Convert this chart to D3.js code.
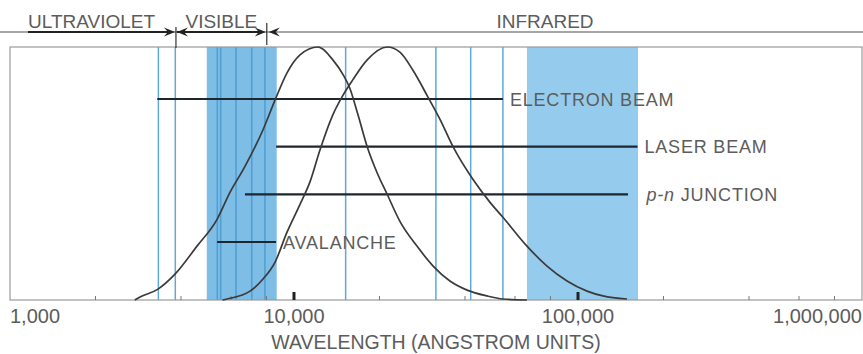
<!DOCTYPE html>
<html>
<head>
<meta charset="utf-8">
<script src="https://cdn.jsdelivr.net/npm/d3@7/dist/d3.min.js"></script>
<style>
  html, body { margin: 0; padding: 0; background: #fff; }
  svg { display: block; }
  text { font-family: "Liberation Sans", Arial, sans-serif; fill: #5c5c5c; }
  .num { font-family: "Liberation Sans Narrow", "Liberation Sans", sans-serif; }
</style>
</head>
<body>
<svg id="chart" width="863" height="354"></svg>
<script>
// Wavelength axis (angstroms)
const majorTicks = [1000, 10000, 100000, 1000000];
const tickLabels = ["1,000", "10,000", "100,000", "1,000,000"];
const minorTicks = [2000, 4000, 6000, 8000, 20000, 40000, 60000, 80000, 200000, 400000, 600000, 800000];
const axisTitle = "WAVELENGTH (ANGSTROM UNITS)";

// Spectral regions and their boundaries (angstroms)
const regionNames = ["ULTRAVIOLET", "VISIBLE", "INFRARED"];
const regionBounds = [3840, 8020];

// Emission curves: wavelength (angstroms) and relative intensity
const curveAWavelength = [2750, 2870, 3320, 3810, 4555, 5360, 5950, 6720, 7780, 8580, 9450, 10500, 12150, 13700, 14900, 15700, 16800, 18100, 19600, 21300, 23600, 27100, 30900, 35400, 40700, 47800, 54400, 66100];
const curveAIntensity  = [0, 0.012, 0.043, 0.102, 0.213, 0.319, 0.425, 0.528, 0.673, 0.791, 0.898, 0.969, 1.0, 0.949, 0.89, 0.839, 0.732, 0.606, 0.504, 0.417, 0.311, 0.213, 0.134, 0.075, 0.039, 0.016, 0.004, 0];
const curveBWavelength = [5600, 5810, 7000, 7780, 8580, 9450, 10500, 11400, 12350, 13700, 14900, 16100, 18100, 21300, 23600, 26200, 29600, 32700, 36300, 42700, 49000, 54400, 66100, 77800, 91500, 107600, 122400, 148800];
const curveBIntensity  = [0, 0.004, 0.035, 0.083, 0.150, 0.268, 0.378, 0.469, 0.594, 0.732, 0.811, 0.870, 0.949, 1.0, 0.980, 0.909, 0.803, 0.713, 0.606, 0.476, 0.386, 0.327, 0.213, 0.134, 0.075, 0.035, 0.016, 0.004];

// Emitter ranges (angstroms)
const emitterNames = ["ELECTRON BEAM", "LASER BEAM", "p-n JUNCTION", "AVALANCHE"];
const emitterFrom  = [3300, 8650, 6720, 5360];
const emitterTo    = [54400, 162000, 150000, 8650];

// Shaded bands and single lines (angstroms)
const bandFrom = [4930, 66100];
const bandTo   = [8690, 162700];
const bandLines = [5370, 5520, 6250, 7100, 7900];
const singleLines = [3330, 3820, 15200, 31600, 41900, 54400];

const svg = d3.select("#chart");
const W = 863, H = 354;
const plot = { left: 10, right: 862, top: 47, bottom: 300 };

const x = d3.scaleLog().domain([1000, 1000000]).range([plot.left, plot.right]);
const y = d3.scaleLinear().domain([0, 1]).range([plot.bottom, plot.top]);
const row = d3.scalePoint().domain(emitterNames).range([99, 242]);

// Shaded bands
const bandColors = ["#7dbde6", "#95ccee"];
svg.append("g").selectAll("rect").data(bandFrom).join("rect")
  .attr("x", (d, i) => x(d))
  .attr("y", plot.top)
  .attr("width", (d, i) => x(bandTo[i]) - x(d))
  .attr("height", plot.bottom - plot.top)
  .attr("fill", (d, i) => bandColors[i]);

// Darker lines inside the visible band
svg.append("g").selectAll("line").data(bandLines).join("line")
  .attr("x1", d => x(d)).attr("x2", d => x(d))
  .attr("y1", plot.top).attr("y2", plot.bottom)
  .attr("stroke", "#529fd2").attr("stroke-width", 1.6);

// Single emission lines
svg.append("g").selectAll("line").data(singleLines).join("line")
  .attr("x1", d => x(d)).attr("x2", d => x(d))
  .attr("y1", plot.top).attr("y2", plot.bottom)
  .attr("stroke", "#5fa9da").attr("stroke-width", 1.5);

// Plot frame
svg.append("rect")
  .attr("x", plot.left).attr("y", plot.top)
  .attr("width", plot.right - plot.left).attr("height", plot.bottom - plot.top)
  .attr("fill", "none").attr("stroke", "#9a9a9a").attr("stroke-width", 1.2);

// Axis ticks along the bottom edge
svg.append("g").selectAll("line").data(minorTicks).join("line")
  .attr("x1", d => x(d)).attr("x2", d => x(d))
  .attr("y1", plot.bottom).attr("y2", plot.bottom - 4)
  .attr("stroke", "#777").attr("stroke-width", 1);
svg.append("g").selectAll("line").data(majorTicks.slice(1, -1)).join("line")
  .attr("x1", d => x(d)).attr("x2", d => x(d))
  .attr("y1", plot.bottom).attr("y2", plot.bottom - 8)
  .attr("stroke", "#222").attr("stroke-width", 3);

// Tick labels
svg.append("g").selectAll("text").data(majorTicks).join("text")
  .attr("class", "num")
  .attr("x", d => x(d))
  .attr("y", 323)
  .attr("font-size", 20)
  .attr("text-anchor", (d, i) => i === 0 ? "start" : (i === majorTicks.length - 1 ? "end" : "middle"))
  .text((d, i) => tickLabels[i]);

svg.append("text")
  .attr("x", (plot.left + plot.right) / 2)
  .attr("y", 349)
  .attr("font-size", 19.5)
  .attr("text-anchor", "middle")
  .text(axisTitle);

// Emitter range bars
svg.append("g").selectAll("line").data(emitterNames).join("line")
  .attr("x1", (d, i) => x(emitterFrom[i]))
  .attr("x2", (d, i) => x(emitterTo[i]))
  .attr("y1", d => row(d)).attr("y2", d => row(d))
  .attr("stroke", "#1d2631").attr("stroke-width", 2.2);

// Emission curves
const line = d3.line().x(d => x(d[0])).y(d => y(d[1])).curve(d3.curveMonotoneX);
[[curveAWavelength, curveAIntensity], [curveBWavelength, curveBIntensity]].forEach(([ws, vs]) => {
  svg.append("path")
    .datum(ws.map((w, i) => [w, vs[i]]))
    .attr("d", line)
    .attr("fill", "none")
    .attr("stroke", "#3a3a3a")
    .attr("stroke-width", 1.7);
});

// Emitter labels
const labelX = name => name === "p-n JUNCTION" ? x(emitterTo[1]) + 9 : x(emitterTo[emitterNames.indexOf(name)]) + 7;
const labels = svg.append("g").selectAll("text").data(emitterNames).join("text")
  .attr("x", d => labelX(d))
  .attr("y", d => row(d) + 6.5)
  .attr("font-size", 18)
  .attr("letter-spacing", 0.8);
labels.each(function (d) {
  const t = d3.select(this);
  if (d.startsWith("p-n")) {
    t.append("tspan").attr("font-style", "italic").text("p-n");
    t.append("tspan").text(d.slice(3));
  } else {
    t.text(d);
  }
});

// Spectral region header
const headY = 32;
svg.append("line")
  .attr("x1", 0).attr("x2", W).attr("y1", headY).attr("y2", headY)
  .attr("stroke", "#888").attr("stroke-width", 1.5);

const b0 = x(regionBounds[0]), b1 = x(regionBounds[1]);
const arrowSegs = [[28, b0 - 1], [b0 + 1, b1 - 1]];
svg.append("g").selectAll("line").data(arrowSegs).join("line")
  .attr("x1", d => d[0]).attr("x2", d => d[1] - 4)
  .attr("y1", headY).attr("y2", headY)
  .attr("stroke", "#222").attr("stroke-width", 2);

function head(tx, dir) {
  return `M${tx},${headY} L${tx - dir * 11},${headY - 4.5} L${tx - dir * 7},${headY} L${tx - dir * 11},${headY + 4.5} Z`;
}
const heads = [[b0 - 1, 1], [b0 + 1, -1], [b1 - 1, 1], [b1 + 2, -1]];
svg.append("g").selectAll("path").data(heads).join("path")
  .attr("d", d => head(d[0], d[1]))
  .attr("fill", "#222");

svg.append("line").attr("x1", b0).attr("x2", b0).attr("y1", 27).attr("y2", 48)
  .attr("stroke", "#333").attr("stroke-width", 1.2);
svg.append("line").attr("x1", b1).attr("x2", b1).attr("y1", 23).attr("y2", 45)
  .attr("stroke", "#333").attr("stroke-width", 1.2);

const regionLabelX = [28, (b0 + b1) / 2, 545];
const regionAnchor = ["start", "middle", "middle"];
svg.append("g").selectAll("text").data(regionNames).join("text")
  .attr("x", (d, i) => regionLabelX[i])
  .attr("y", 28)
  .attr("font-size", 19)
  .attr("text-anchor", (d, i) => regionAnchor[i])
  .text(d => d);
</script>
</body>
</html>
